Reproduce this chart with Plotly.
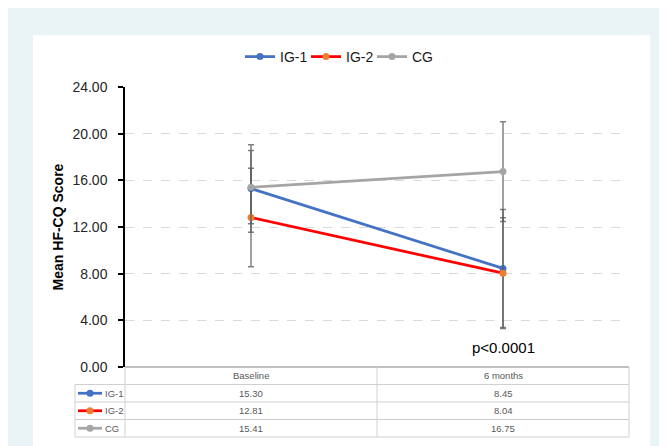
import plotly.graph_objects as go

categories = ["Baseline", "6 months"]
series_names = ["IG-1", "IG-2", "CG"]
ig1_mean = [15.30, 8.45]
ig2_mean = [12.81, 8.04]
cg_mean = [15.41, 16.75]
ig1_sd = [3.75, 5.06]
ig2_sd = [4.22, 4.75]
cg_sd = [3.14, 4.27]
y_ticks = [0, 4, 8, 12, 16, 20, 24]

line_colors = ["#4472c4", "#ff0000", "#a5a5a5"]
marker_colors = ["#4472c4", "#ed7d31", "#a5a5a5"]
means = [ig1_mean, ig2_mean, cg_mean]
sds = [ig1_sd, ig2_sd, cg_sd]

OFF = 8  # page body offset
W, H = 667 - OFF, 446 - OFF
L, R, T, B = 125 - OFF, 38, 87 - OFF, 79
PW, PH = W - L - R, H - T - B


def px(x):
    return (x - OFF - L) / PW


def py(y):
    return (H - B - (y - OFF)) / PH


fig = go.Figure()
for name, m, s, lc, mc in zip(series_names, means, sds, line_colors, marker_colors):
    fig.add_trace(go.Scatter(
        x=categories, y=m, name=name, mode="lines+markers",
        line=dict(color=lc, width=2.75),
        marker=dict(color=mc, size=7),
        error_y=dict(type="data", array=s, symmetric=True,
                     color="rgba(85,85,85,0.75)", thickness=1.5, width=3),
    ))

shapes = []
shapes.append(dict(type="rect", xref="paper", yref="paper", x0=px(33), x1=px(650), y0=py(460), y1=py(35),
                   fillcolor="#ffffff", line=dict(width=0), layer="below"))

grid_c = "#d0d0d0"
rows_y = [367, 384.5, 402, 419.5, 437]
for i, yy in enumerate(rows_y):
    x0 = 125 if i == 0 else 75
    shapes.append(dict(type="line", xref="paper", yref="paper", x0=px(x0), x1=px(629), y0=py(yy), y1=py(yy),
                       line=dict(color="#bfbfbf" if i == 0 else grid_c, width=2 if i == 0 else 1)))
for xx, ytop in [(75, 384.5), (125, 367), (377, 367), (629, 367)]:
    shapes.append(dict(type="line", xref="paper", yref="paper", x0=px(xx), x1=px(xx), y0=py(ytop), y1=py(437),
                       line=dict(color=grid_c, width=1)))

annotations = []
txt_font = dict(family="Liberation Sans", size=9.5, color="#595959")
for j, c in enumerate(categories):
    annotations.append(dict(x=c, xref="x", y=py(375.75), yref="paper", text=c, showarrow=False,
                            font=txt_font, xanchor="center", yanchor="middle"))
for i, (name, m, lc, mc) in enumerate(zip(series_names, means, line_colors, marker_colors)):
    yc = (rows_y[i + 1] + rows_y[i + 2]) / 2
    for j, c in enumerate(categories):
        annotations.append(dict(x=c, xref="x", y=py(yc), yref="paper", text=f"{m[j]:.2f}", showarrow=False,
                                font=txt_font, xanchor="center", yanchor="middle"))
    shapes.append(dict(type="line", xref="paper", yref="paper", x0=px(78), x1=px(102), y0=py(yc), y1=py(yc),
                       line=dict(color=lc, width=2.75)))
    shapes.append(dict(type="circle", xref="paper", yref="paper", xsizemode="pixel", ysizemode="pixel",
                       xanchor=px(90), yanchor=py(yc), x0=-3.5, x1=3.5, y0=-3.5, y1=3.5,
                       fillcolor=mc, line=dict(width=0)))
    annotations.append(dict(x=px(102.5), xref="paper", y=py(yc), yref="paper", text=name, showarrow=False,
                            font=txt_font, xanchor="left", yanchor="middle"))

annotations.append(dict(x=categories[1], xref="x", y=1.63, yref="y", text="p<0.0001", showarrow=False,
                        font=dict(family="Liberation Sans", size=15, color="#000000"),
                        xanchor="center", yanchor="middle"))

fig.update_layout(
    width=W, height=H,
    margin=dict(l=L, r=R, t=T, b=B, pad=0),
    paper_bgcolor="#eaf3f5",
    plot_bgcolor="rgba(0,0,0,0)",
    font=dict(family="Liberation Sans", color="#262626"),
    showlegend=True,
    legend=dict(orientation="h", x=px(339), xanchor="center", y=py(57), yanchor="middle",
                font=dict(size=14, color="#1a1a1a"), itemwidth=30, entrywidth=21,
                bgcolor="rgba(0,0,0,0)"),
    xaxis=dict(type="category", range=[-0.5, 1.5], showticklabels=False, showgrid=False,
               zeroline=False, showline=False, ticks=""),
    yaxis=dict(range=[0, 24], tickvals=y_ticks, tickformat=".2f", showgrid=True,
               gridcolor="#d9d9d9", griddash="dash", gridwidth=1, zeroline=False,
               showline=True, linecolor="#000000", linewidth=1.5, ticks="outside",
               ticklen=5, tickcolor="#000000", tickwidth=1.5, ticklabelstandoff=8,
               tickfont=dict(size=14, color="#262626"),
               title=dict(text="<b>Mean HF-CQ Score</b>", font=dict(size=14, color="#000000"), standoff=6)),
    shapes=shapes,
    annotations=annotations,
)

fig.write_html("out.html")
